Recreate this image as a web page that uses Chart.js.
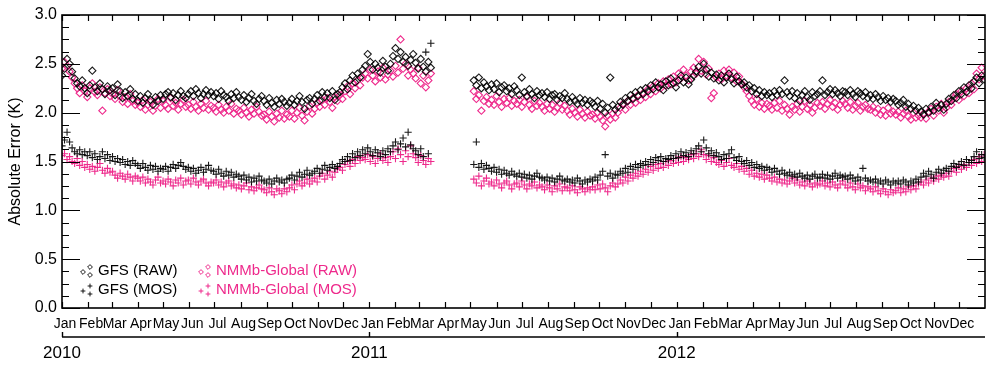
<!DOCTYPE html>
<html>
<head>
<meta charset="utf-8">
<script src="https://cdn.jsdelivr.net/npm/chart.js@4/dist/chart.umd.min.js"></script>
<style>
  html, body { margin: 0; padding: 0; background: #fff; }
  #wrap { width: 1000px; height: 373px; }
</style>
</head>
<body>
<div id="wrap"><canvas id="err-chart" width="1000" height="373"></canvas></div>
<script>
// Absolute error (K), one value every third day from 1 Jan 2010 (null = no data)
var dayStep = 3;
var years = [2010, 2011, 2012];
var monthNames = ["Jan", "Feb", "Mar", "Apr", "May", "Jun", "Jul", "Aug", "Sep", "Oct", "Nov", "Dec"];
var yTicks = [0, 0.5, 1, 1.5, 2, 2.5, 3];

var gfsRaw = [
  2.38, 2.45, 2.55, 2.50, 2.42, 2.35, 2.30, 2.27, 2.33, 2.25,
  2.20, 2.28, 2.43, 2.26, 2.22, 2.30, 2.24, 2.19, 2.27, 2.23,
  2.25, 2.18, 2.29, 2.22, 2.15, 2.21, 2.17, 2.24, 2.14, 2.19,
  2.12, 2.17, 2.10, 2.15, 2.19, 2.13, 2.08, 2.16, 2.12, 2.18,
  2.14, 2.19, 2.21, 2.16, 2.20, 2.13, 2.18, 2.22, 2.17, 2.15,
  2.19, 2.22, 2.17, 2.24, 2.20, 2.15, 2.19, 2.23, 2.18, 2.21,
  2.17, 2.20, 2.14, 2.22, 2.18, 2.16, 2.12, 2.19, 2.15, 2.21,
  2.16, 2.13, 2.18, 2.11, 2.15, 2.19, 2.12, 2.09, 2.14, 2.17,
  2.12, 2.08, 2.15, 2.10, 2.06, 2.13, 2.09, 2.14, 2.11, 2.07,
  2.10, 2.14, 2.08, 2.12, 2.17, 2.11, 2.04, 2.13, 2.15, 2.09,
  2.14, 2.18, 2.12, 2.21, 2.16, 2.20, 2.15, 2.22, 2.13, 2.19,
  2.21, 2.26, 2.30, 2.24, 2.33, 2.38, 2.31, 2.40, 2.36, 2.44,
  2.48, 2.60, 2.52, 2.44, 2.50, 2.46, 2.41, 2.53, 2.47, 2.43,
  2.50, 2.58, 2.66, 2.55, 2.62, 2.52, 2.57, 2.48, 2.54, 2.60,
  2.51, 2.45, 2.55, 2.47, 2.42, 2.52, 2.46, null, null, null,
  null, null, null, null, null, null, null, null, null, null,
  null, null, null, 2.33, 2.28, 2.36, 2.25, 2.31, 2.27, 2.23,
  2.29, 2.24, 2.30, 2.21, 2.26, 2.28, 2.22, 2.25, 2.19, 2.27,
  2.23, 2.18, 2.36, 2.21, 2.17, 2.24, 2.19, 2.15, 2.22, 2.18,
  2.20, 2.16, 2.21, 2.14, 2.18, 2.19, 2.13, 2.17, 2.15, 2.20,
  2.14, 2.11, 2.16, 2.12, 2.09, 2.15, 2.10, 2.13, 2.08, 2.12,
  2.10, 2.06, 2.12, 2.04, 2.09, 2.00, 2.05, 2.36, 2.08, 2.03,
  2.06, 2.11, 2.08, 2.15, 2.12, 2.18, 2.14, 2.21, 2.17, 2.23,
  2.19, 2.25, 2.22, 2.28, 2.24, 2.31, 2.26, 2.29, 2.23, 2.32,
  2.28, 2.35, 2.30, 2.26, 2.33, 2.38, 2.31, 2.36, 2.29, 2.34,
  2.38, 2.42, 2.47, 2.40, 2.50, 2.44, 2.37, 2.41, 2.35, 2.39,
  2.33, 2.38, 2.31, 2.36, 2.40, 2.34, 2.30, 2.37, 2.32, 2.29,
  2.31, 2.26, 2.28, 2.22, 2.25, 2.19, 2.23, 2.17, 2.21, 2.18,
  2.20, 2.16, 2.22, 2.18, 2.23, 2.19, 2.33, 2.21, 2.17, 2.22,
  2.15, 2.20, 2.12, 2.18, 2.22, 2.16, 2.13, 2.21, 2.17, 2.19,
  2.22, 2.33, 2.18, 2.21, 2.24, 2.19, 2.23, 2.20, 2.17, 2.22,
  2.21, 2.18, 2.23, 2.19, 2.16, 2.22, 2.20, 2.17, 2.21, 2.15,
  2.18, 2.14, 2.19, 2.16, 2.12, 2.17, 2.13, 2.15, 2.11, 2.14,
  2.12, 2.08, 2.10, 2.13, 2.06, 2.09, 2.04, 2.07, 2.02, 2.05,
  2.01, 1.98, 2.04, 2.00, 2.06, 2.02, 2.10, 2.05, 2.08, 2.03,
  2.09, 2.14, 2.12, 2.18, 2.15, 2.22, 2.19, 2.26, 2.21, 2.28,
  2.25, 2.32, 2.36, 2.30, 2.38, 2.34
];

var gfsMos = [
  1.66, 1.72, 1.80, 1.70, 1.64, 1.60, 1.58, 1.62, 1.57, 1.60,
  1.56, 1.60, 1.54, 1.58, 1.52, 1.55, 1.60, 1.53, 1.57, 1.51,
  1.55, 1.50, 1.53, 1.49, 1.52, 1.47, 1.50, 1.46, 1.51, 1.48,
  1.46, 1.43, 1.48, 1.44, 1.41, 1.46, 1.42, 1.45, 1.40, 1.43,
  1.42, 1.45, 1.40, 1.44, 1.47, 1.43, 1.46, 1.49, 1.45, 1.42,
  1.44, 1.40, 1.43, 1.38, 1.41, 1.44, 1.39, 1.42, 1.46, 1.41,
  1.40, 1.37, 1.42, 1.38, 1.35, 1.40, 1.36, 1.39, 1.34, 1.37,
  1.35, 1.32, 1.36, 1.31, 1.34, 1.29, 1.33, 1.30, 1.35, 1.31,
  1.30, 1.28, 1.32, 1.27, 1.30, 1.33, 1.29, 1.31, 1.28, 1.32,
  1.33, 1.36, 1.31, 1.35, 1.39, 1.34, 1.37, 1.41, 1.36, 1.38,
  1.40, 1.43, 1.38, 1.42, 1.46, 1.41, 1.44, 1.47, 1.43, 1.45,
  1.48, 1.52, 1.50, 1.55, 1.51, 1.58, 1.54, 1.60, 1.56, 1.62,
  1.58, 1.64, 1.60, 1.56, 1.62, 1.59, 1.55, 1.61, 1.57, 1.63,
  1.60, 1.66, 1.70, 1.62, 1.68, 1.74, 1.65, 1.80, 1.67, 1.63,
  1.61, 1.57, 1.63, 1.55, 2.62, 1.58, 2.71, null, null, null,
  null, null, null, null, null, null, null, null, null, null,
  null, null, null, 1.47, 1.70, 1.44, 1.48, 1.42, 1.46, 1.43,
  1.40, 1.44, 1.39, 1.42, 1.37, 1.41, 1.38, 1.36, 1.40, 1.37,
  1.35, 1.38, 1.34, 1.37, 1.33, 1.36, 1.32, 1.35, 1.38, 1.34,
  1.33, 1.31, 1.34, 1.30, 1.33, 1.29, 1.32, 1.35, 1.31, 1.30,
  1.32, 1.29, 1.31, 1.28, 1.33, 1.30, 1.27, 1.31, 1.29, 1.32,
  1.30, 1.34, 1.31, 1.36, 1.40, 1.57, 1.35, 1.38, 1.33, 1.37,
  1.36, 1.40, 1.38, 1.43, 1.39, 1.45, 1.42, 1.47, 1.44, 1.48,
  1.46, 1.50, 1.47, 1.52, 1.49, 1.54, 1.51, 1.55, 1.50, 1.53,
  1.52, 1.56, 1.53, 1.58, 1.54, 1.60, 1.56, 1.59, 1.55, 1.61,
  1.58, 1.63, 1.66, 1.60, 1.72, 1.64, 1.58, 1.61, 1.56, 1.59,
  1.55, 1.52, 1.57, 1.53, 1.58, 1.62, 1.54, 1.51, 1.55, 1.50,
  1.48, 1.51, 1.46, 1.49, 1.44, 1.47, 1.43, 1.45, 1.41, 1.44,
  1.42, 1.39, 1.43, 1.40, 1.37, 1.41, 1.38, 1.36, 1.39, 1.35,
  1.37, 1.34, 1.38, 1.35, 1.33, 1.36, 1.32, 1.35, 1.37, 1.33,
  1.34, 1.37, 1.33, 1.36, 1.32, 1.35, 1.38, 1.33, 1.36, 1.34,
  1.35, 1.32, 1.36, 1.33, 1.30, 1.34, 1.31, 1.43, 1.33, 1.30,
  1.31, 1.29, 1.32, 1.28, 1.30, 1.27, 1.31, 1.29, 1.26, 1.30,
  1.28, 1.30, 1.27, 1.31, 1.29, 1.26, 1.30, 1.28, 1.32, 1.29,
  1.34, 1.38, 1.35, 1.40, 1.37, 1.33, 1.39, 1.42, 1.38, 1.41,
  1.43, 1.40, 1.45, 1.48, 1.44, 1.47, 1.50, 1.46, 1.52, 1.49,
  1.51, 1.55, 1.60, 1.53, 1.57, 1.54
];

var nmmbRaw = [
  2.45, 2.52, 2.48, 2.42, 2.36, 2.30, 2.25, 2.20, 2.28, 2.22,
  2.16, 2.25, 2.30, 2.21, 2.18, 2.26, 2.02, 2.20, 2.24, 2.17,
  2.19, 2.14, 2.23, 2.17, 2.11, 2.16, 2.09, 2.19, 2.12, 2.08,
  2.10, 2.06, 2.13, 2.03, 2.08, 2.11, 2.02, 2.07, 2.14, 2.05,
  2.12, 2.08, 2.04, 2.15, 2.07, 2.10, 2.03, 2.09, 2.13, 2.06,
  2.08, 2.04, 2.11, 2.06, 2.02, 2.09, 2.05, 2.12, 2.03, 2.07,
  2.05, 2.01, 2.08, 2.03, 2.00, 2.06, 2.02, 2.09, 1.99, 2.04,
  2.02, 1.98, 2.05, 2.00, 1.96, 2.03, 1.99, 2.06, 2.01, 1.97,
  1.98, 1.93, 2.01, 1.96, 1.91, 1.99, 1.95, 2.02, 1.94, 1.98,
  1.96, 2.02, 1.94, 2.00, 2.05, 1.97, 1.92, 2.01, 2.07, 1.99,
  2.04, 2.10, 2.06, 2.13, 2.08, 2.15, 2.11, 2.05, 2.16, 2.12,
  2.18, 2.14, 2.22, 2.27, 2.19, 2.30, 2.25, 2.33, 2.28, 2.36,
  2.40, 2.35, 2.44, 2.38, 2.32, 2.42, 2.36, 2.46, 2.34, 2.39,
  2.43, 2.37, 2.48, 2.41, 2.75, 2.45, 2.50, 2.38, 2.44, 2.40,
  2.35, 2.46, 2.30, 2.38, 2.26, 2.33, 2.40, null, null, null,
  null, null, null, null, null, null, null, null, null, null,
  null, null, null, 2.22, 2.14, 2.18, 2.02, 2.12, 2.16, 2.09,
  2.13, 2.08, 2.17, 2.11, 2.06, 2.14, 2.10, 2.15, 2.07, 2.12,
  2.09, 2.13, 2.06, 2.11, 2.16, 2.08, 2.04, 2.12, 2.07, 2.10,
  2.06, 2.02, 2.09, 2.04, 2.08, 2.01, 2.05, 2.10, 2.03, 2.07,
  2.02, 1.98, 2.04, 2.00, 1.96, 2.03, 1.99, 1.95, 2.01, 1.97,
  1.98, 1.94, 2.00, 1.96, 1.92, 1.86, 1.97, 1.93, 1.99, 1.95,
  2.00, 2.05, 2.09, 2.03, 2.12, 2.08, 2.15, 2.10, 2.18, 2.13,
  2.20, 2.16, 2.24, 2.19, 2.27, 2.22, 2.30, 2.25, 2.32, 2.28,
  2.34, 2.29, 2.37, 2.31, 2.40, 2.35, 2.44, 2.38, 2.33, 2.42,
  2.46, 2.40, 2.55, 2.43, 2.52, 2.39, 2.45, 2.15, 2.20, 2.36,
  2.40, 2.34, 2.43, 2.38, 2.44, 2.36, 2.41, 2.32, 2.37, 2.30,
  2.26, 2.22, 2.17, 2.12, 2.08, 2.14, 2.06, 2.10, 2.04, 2.09,
  2.07, 2.03, 2.10, 2.05, 2.12, 2.02, 2.08, 2.04, 1.98, 2.06,
  2.03, 2.09, 2.01, 2.06, 2.12, 2.04, 2.08, 2.00, 2.05, 2.10,
  2.07, 2.11, 2.04, 2.09, 2.13, 2.06, 2.10, 2.03, 2.08, 2.12,
  2.09, 2.05, 2.11, 2.03, 2.07, 2.10, 2.02, 2.06, 2.08, 2.04,
  2.03, 2.06, 2.00, 2.04, 1.98, 2.02, 1.97, 2.05, 1.99, 2.01,
  1.98, 2.01, 1.95, 1.99, 2.02, 1.96, 1.93, 2.00, 1.95, 1.97,
  1.95, 1.99, 1.94, 2.01, 2.04, 1.97, 2.06, 2.02, 2.09, 2.00,
  2.05, 2.11, 2.08, 2.15, 2.19, 2.13, 2.22, 2.17, 2.25, 2.20,
  2.30, 2.24, 2.40, 2.34, 2.46, 2.38
];

var nmmbMos = [
  1.56, 1.58, 1.52, 1.55, 1.50, 1.48, 1.53, 1.46, 1.50, 1.44,
  1.47, 1.42, 1.45, 1.40, 1.44, 1.48, 1.41, 1.38, 1.43, 1.39,
  1.40, 1.36, 1.33, 1.38, 1.35, 1.32, 1.37, 1.34, 1.30, 1.35,
  1.33, 1.30, 1.34, 1.28, 1.32, 1.29, 1.26, 1.31, 1.34, 1.28,
  1.30, 1.27, 1.32, 1.29, 1.25, 1.31, 1.28, 1.33, 1.26, 1.30,
  1.31, 1.27, 1.33, 1.29, 1.26, 1.30, 1.32, 1.28, 1.25, 1.29,
  1.28, 1.31, 1.26, 1.29, 1.24, 1.28, 1.30, 1.25, 1.27, 1.23,
  1.26, 1.22, 1.25, 1.28, 1.21, 1.24, 1.20, 1.23, 1.26, 1.22,
  1.21, 1.18, 1.23, 1.19, 1.16, 1.22, 1.20, 1.17, 1.22, 1.19,
  1.23, 1.26, 1.21, 1.27, 1.30, 1.25, 1.28, 1.32, 1.27, 1.30,
  1.33, 1.29, 1.35, 1.38, 1.32, 1.36, 1.40, 1.34, 1.39, 1.42,
  1.44, 1.41, 1.47, 1.50, 1.45, 1.52, 1.48, 1.55, 1.51, 1.54,
  1.52, 1.57, 1.50, 1.55, 1.48, 1.53, 1.58, 1.51, 1.54, 1.49,
  1.55, 1.60, 1.53, 1.63, 1.57, 1.50, 1.61, 1.55, 1.66, 1.58,
  1.54, 1.49, 1.56, 1.51, 1.47, 1.53, 1.50, null, null, null,
  null, null, null, null, null, null, null, null, null, null,
  null, null, null, 1.32, 1.28, 1.35, 1.25, 1.30, 1.33, 1.27,
  1.29, 1.25, 1.31, 1.27, 1.23, 1.28, 1.30, 1.26, 1.22, 1.27,
  1.28, 1.24, 1.30, 1.26, 1.22, 1.27, 1.25, 1.29, 1.23, 1.26,
  1.24, 1.21, 1.26, 1.23, 1.19, 1.25, 1.22, 1.27, 1.20, 1.24,
  1.23, 1.20, 1.25, 1.21, 1.18, 1.24, 1.22, 1.19, 1.23, 1.21,
  1.24, 1.21, 1.26, 1.22, 1.27, 1.23, 1.19, 1.25, 1.28, 1.24,
  1.27, 1.31, 1.28, 1.34, 1.30, 1.36, 1.33, 1.38, 1.35, 1.40,
  1.37, 1.42, 1.39, 1.45, 1.41, 1.47, 1.43, 1.48, 1.44, 1.50,
  1.46, 1.51, 1.48, 1.53, 1.49, 1.55, 1.50, 1.54, 1.52, 1.57,
  1.53, 1.58, 1.55, 1.62, 1.57, 1.52, 1.56, 1.50, 1.54, 1.49,
  1.47, 1.51, 1.45, 1.49, 1.53, 1.46, 1.44, 1.48, 1.42, 1.45,
  1.40, 1.43, 1.37, 1.41, 1.35, 1.38, 1.34, 1.37, 1.32, 1.36,
  1.33, 1.30, 1.34, 1.29, 1.32, 1.28, 1.31, 1.27, 1.30, 1.33,
  1.28, 1.31, 1.26, 1.29, 1.25, 1.30, 1.27, 1.24, 1.28, 1.26,
  1.27, 1.30, 1.25, 1.28, 1.24, 1.29, 1.26, 1.23, 1.27, 1.30,
  1.26, 1.23, 1.28, 1.24, 1.21, 1.27, 1.23, 1.25, 1.20, 1.24,
  1.22, 1.19, 1.24, 1.20, 1.17, 1.22, 1.19, 1.16, 1.21, 1.18,
  1.20, 1.23, 1.18, 1.22, 1.19, 1.24, 1.21, 1.25, 1.22, 1.27,
  1.29, 1.26, 1.31, 1.28, 1.33, 1.30, 1.35, 1.32, 1.36, 1.34,
  1.38, 1.35, 1.40, 1.43, 1.39, 1.45, 1.42, 1.47, 1.44, 1.49,
  1.46, 1.52, 1.48, 1.55, 1.50, 1.57
];

var black = "rgba(0,0,0,0.9)";
var pink = "#ee2a8c";

// day numbers (since 1 Jan 2010) for the samples, month starts and year starts
var days = [];
for (var i = 0; i < gfsRaw.length; i++) days.push(i * dayStep);

var t0 = Date.UTC(years[0], 0, 1);
var monthStarts = [], monthLabels = [], yearStarts = [];
years.forEach(function (yr) {
  yearStarts.push((Date.UTC(yr, 0, 1) - t0) / 864e5);
  for (var m = 0; m < 12; m++) {
    monthStarts.push((Date.UTC(yr, m, 1) - t0) / 864e5);
    monthLabels.push(monthNames[m]);
  }
});
var lastDay = (Date.UTC(years[years.length - 1] + 1, 0, 1) - t0) / 864e5;

function toPoints(vals) {
  return vals.map(function (v, k) { return { x: days[k], y: v }; });
}

function mark(ctx, style, x, y, r) {
  ctx.beginPath();
  if (style == "rectRot") {
    ctx.moveTo(x, y - r); ctx.lineTo(x + r, y); ctx.lineTo(x, y + r); ctx.lineTo(x - r, y); ctx.closePath();
  } else {
    ctx.moveTo(x - r, y); ctx.lineTo(x + r, y); ctx.moveTo(x, y - r); ctx.lineTo(x, y + r);
  }
  ctx.stroke();
}

// axes frame, inward ticks, year axis and legend
var framePlugin = {
  id: "frame",
  afterDraw: function (chart) {
    var ctx = chart.ctx, a = chart.chartArea;
    var xs = chart.scales.x, ys = chart.scales.y;
    ctx.save();
    ctx.strokeStyle = "#000";
    ctx.lineWidth = 1.6;
    ctx.strokeRect(a.left, a.top, a.right - a.left, a.bottom - a.top);

    ctx.lineWidth = 1.2;
    ctx.beginPath();
    for (var k = 0; k <= 24; k++) {
      var py = Math.round(ys.getPixelForValue(k * 0.125)) + 0.5;
      var len = k % 4 == 0 ? 18 : 7;
      ctx.moveTo(a.left, py); ctx.lineTo(a.left + len, py);
      ctx.moveTo(a.right, py); ctx.lineTo(a.right - len, py);
    }
    monthStarts.forEach(function (d) {
      var px = Math.round(xs.getPixelForValue(d)) + 0.5;
      ctx.moveTo(px, a.top); ctx.lineTo(px, a.top + 6);
      ctx.moveTo(px, a.bottom); ctx.lineTo(px, a.bottom - 6);
    });
    ctx.stroke();

    // second axis with years
    var yy = a.bottom + 29;
    ctx.lineWidth = 1.4;
    ctx.beginPath();
    ctx.moveTo(a.left, yy); ctx.lineTo(a.right, yy);
    yearStarts.forEach(function (d) {
      var px = Math.round(xs.getPixelForValue(d)) + 0.5;
      ctx.moveTo(px, yy); ctx.lineTo(px, yy - 5);
    });
    ctx.stroke();
    ctx.fillStyle = "#000";
    ctx.font = "17px 'Liberation Sans', Arial, sans-serif";
    ctx.textAlign = "center";
    ctx.textBaseline = "middle";
    yearStarts.forEach(function (d, k) {
      ctx.fillText(String(years[k]), xs.getPixelForValue(d), yy + 16);
    });

    // legend, two columns
    ctx.font = "15px 'Liberation Sans', Arial, sans-serif";
    ctx.textAlign = "left";
    ctx.lineWidth = 1;
    chart.data.datasets.forEach(function (ds, k) {
      var col = k < 2 ? 0 : 1;
      var row = k % 2;
      var mx = a.left + (col ? 139 : 21);
      var my = a.bottom - (row ? 18 : 37);
      ctx.strokeStyle = ds.borderColor;
      mark(ctx, ds.pointStyle, mx, my + 1, 2.4);
      mark(ctx, ds.pointStyle, mx + 7, my - 4, 2.4);
      mark(ctx, ds.pointStyle, mx + 7, my + 4, 2.4);
      ctx.fillStyle = col ? pink : "#000";
      ctx.fillText(ds.label, mx + 15, my);
    });
    ctx.restore();
  }
};

Chart.defaults.font.family = "'Liberation Sans', Arial, Helvetica, sans-serif";
Chart.defaults.color = "#000";

var ctx = document.getElementById("err-chart").getContext("2d");
var err_chart = new Chart(ctx, {
  type: "scatter",
  data: {
    datasets: [
      { label: "GFS (RAW)", data: toPoints(gfsRaw), pointStyle: "rectRot", borderColor: black, backgroundColor: "rgba(0,0,0,0)", borderWidth: 1.1, pointRadius: 3.6 },
      { label: "GFS (MOS)", data: toPoints(gfsMos), pointStyle: "cross", borderColor: black, backgroundColor: "rgba(0,0,0,0)", borderWidth: 1.1, pointRadius: 3.6 },
      { label: "NMMb-Global (RAW)", data: toPoints(nmmbRaw), pointStyle: "rectRot", borderColor: pink, backgroundColor: "rgba(0,0,0,0)", borderWidth: 1.1, pointRadius: 3.6 },
      { label: "NMMb-Global (MOS)", data: toPoints(nmmbMos), pointStyle: "cross", borderColor: pink, backgroundColor: "rgba(0,0,0,0)", borderWidth: 1.1, pointRadius: 3.6 },
    ],
  },
  options: {
    responsive: false,
    animation: false,
    layout: { padding: { top: 15, right: 15, left: 0, bottom: 0 } },
    plugins: { legend: { display: false }, tooltip: { enabled: false } },
    scales: {
      x: {
        type: "linear",
        min: 0,
        max: lastDay,
        grid: { display: false, drawTicks: false },
        border: { display: false },
        afterBuildTicks: function (scale) {
          scale.ticks = monthStarts.map(function (d) { return { value: d }; });
        },
        afterFit: function (scale) { scale.height = 65; },
        ticks: {
          autoSkip: false,
          maxRotation: 0,
          padding: 8,
          labelOffset: 3,
          font: { size: 14 },
          callback: function (v, k) { return monthLabels[k]; },
        },
      },
      y: {
        min: 0,
        max: 3,
        grid: { display: false, drawTicks: false },
        border: { display: false },
        afterBuildTicks: function (scale) {
          scale.ticks = yTicks.map(function (v) { return { value: v }; });
        },
        afterFit: function (scale) { scale.width = 62; },
        ticks: {
          padding: 5,
          font: { size: 16 },
          callback: function (v) { return Number(v).toFixed(1); },
        },
        title: {
          display: true,
          text: "Absolute Error (K)",
          font: { size: 16 },
          padding: { top: 6, bottom: 0 },
        },
      },
    },
  },
  plugins: [framePlugin],
});
</script>
</body>
</html>
